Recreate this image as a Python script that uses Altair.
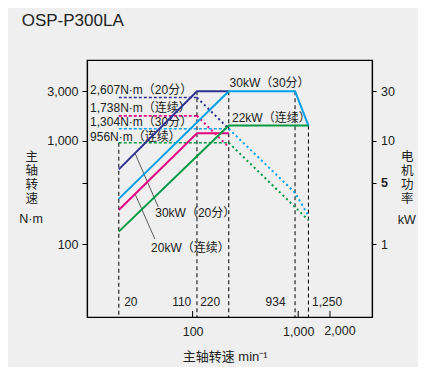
import altair as alt
import pandas as pd

FONT = "Liberation Sans, Arial, Noto Sans CJK SC, sans-serif"
TXT = "#222222"

series_names = ["30kW(20分)", "20kW(连续)", "30kW(30分)", "22kW(连续)"]
series_colors = ["#2e3192", "#e4007f", "#00a0e9", "#009944"]

# dashed verticals (speed min^-1) and their top levels (N·m scale)
vline_speed = [20, 110, 220, 934, 1250]
vline_top = [956, 3000, 3000, 3000, 1400]

# constant torque levels (dashed), N·m
ct_series = series_names
ct_from = [20, 20, 20, 20]
ct_to = [110, 110, 220, 220]
ct_torque = [2607, 1738, 1304, 956]

# torque in constant-power range (dotted), N·m
cp_series = ["30kW(20分)"] * 2 + ["20kW(连续)"] * 2 + ["30kW(30分)"] * 3 + ["22kW(连续)"] * 2
cp_speed = [110, 220, 110, 220, 220, 934, 1250, 220, 1250]
cp_torque = [2607, 1304, 1738, 869, 1304, 315, 190, 956, 172]

# power lines (solid), kW
pw_series = ["30kW(20分)"] * 3 + ["20kW(连续)"] * 3 + ["30kW(30分)"] * 4 + ["22kW(连续)"] * 3
pw_speed = [20, 110, 220, 20, 110, 220, 20, 220, 934, 1250, 20, 220, 1250]
pw_kw = [5.3, 30, 30, 2.15, 11.8, 11.8, 2.75, 30, 30, 14, 1.33, 14, 14]

# leader lines (speed, N·m)
ld_x = [28.6, 28.8]
ld_y = [750, 300]
ld_x2 = [47.3, 43.9]
ld_y2 = [230, 113]

# labels
lab_text = ["2,607N·m（20分）", "1,738N·m（连续）", "1,304N·m（30分）", "956N·m（连续）",
            "30kW（30分）", "22kW（连续）", "30kW（20分）", "20kW（连续）",
            "20", "220", "1,250"]
lab_x = [10.7, 10.7, 10.7, 10.7, 224, 236, 44.3, 40.4, 22.5, 118, 1352]
lab_y = [3097, 2056, 1500, 1084, 3597, 1652, 200, 92, 27.6, 27.6, 27.6]
rlab_text = ["110", "934"]
rlab_x = [97.2, 760]
rlab_y = [27.6, 27.6]

x_ticks = [100, 1000, 2000]

W, H = 285, 257

xs = alt.Scale(type="log", domain=[10, 5000])
ys = alt.Scale(type="log", domain=[20, 6000])
ks = alt.Scale(type="log", domain=[0.2, 60])
cs = alt.Scale(domain=series_names, range=series_colors)

xax = alt.Axis(values=x_ticks, labelExpr="datum.value == 2000 ? '' : format(datum.value, ',')",
               title=None, grid=False, ticks=False, tickSize=0,
               labelPadding=8, labelFontSize=12.5, labelColor=TXT, labelFont=FONT,
               domainColor="black", domainWidth=1.2, labelFlush=False)
yax = alt.Axis(values=[100, 395, 1000, 3000], labelExpr="datum.value == 395 ? '' : format(datum.value, ',')",
               title=None, grid=False, tickSize=5, tickColor="black", labelPadding=4,
               labelFontSize=12.5, labelColor=TXT, labelFont=FONT, domainColor="black", domainWidth=1.2)
kax = alt.Axis(orient="right", values=[1, 3.95, 10, 30],
               labelExpr="datum.value == 3.95 ? '5' : format(datum.value, ',')",
               labelFontWeight={"condition": {"test": "datum.value == 3.95", "value": "bold"}, "value": "normal"},
               title=None, grid=False, tickSize=4, tickColor="black", labelPadding=4.5,
               labelFontSize=12.5, labelColor=TXT, labelFont=FONT, domainColor="black", domainWidth=1.2)

X = lambda f="x": alt.X(f + ":Q", scale=xs, axis=xax)
Y = lambda f="y": alt.Y(f + ":Q", scale=ys, axis=yax)
C = alt.Color("s:N", scale=cs, legend=None)

vdf = pd.DataFrame({"x": vline_speed, "y": vline_top})
vr = alt.Chart(vdf).mark_rule(color="black", strokeDash=[4, 3], strokeWidth=1).encode(
    x=X(), y=Y(), y2=alt.value(H))

ctdf = pd.DataFrame({"s": ct_series, "x": ct_from, "x2": ct_to, "y": ct_torque})
ct = alt.Chart(ctdf).mark_rule(strokeDash=[3, 2], strokeWidth=1.6).encode(
    x=X(), x2="x2:Q", y=Y(), color=C)

cpdf = pd.DataFrame({"s": cp_series, "x": cp_speed, "y": cp_torque})
cp = alt.Chart(cpdf).mark_line(strokeDash=[2, 3], strokeWidth=2).encode(
    x=X(), y=Y(), color=C, detail="s:N")

lddf = pd.DataFrame({"x": ld_x, "y": ld_y, "x2": ld_x2, "y2": ld_y2})
ld = alt.Chart(lddf).mark_rule(color="#333333", strokeWidth=0.8).encode(
    x=X(), y=Y(), x2="x2:Q", y2="y2:Q")

ldf = pd.DataFrame({"t": lab_text, "x": lab_x, "y": lab_y})
lt = alt.Chart(ldf).mark_text(align="left", baseline="middle", fontSize=12, font=FONT, color=TXT).encode(
    x=X(), y=Y(), text="t:N")
rdf = pd.DataFrame({"t": rlab_text, "x": rlab_x, "y": rlab_y})
rt = alt.Chart(rdf).mark_text(align="right", baseline="middle", fontSize=12, font=FONT, color=TXT).encode(
    x=X(), y=Y(), text="t:N")

tkdf = pd.DataFrame({"x": x_ticks})
tk = alt.Chart(tkdf).mark_rule(color="black", strokeWidth=1).encode(
    x=X(), y=alt.value(H - 6), y2=alt.value(H))

# the 2,000 tick label sits a little right of its tick in the original
x2k = alt.Chart(pd.DataFrame({"x": [2000], "t": ["2,000"]})).mark_text(
    align="center", baseline="top", fontSize=12.5, font=FONT, color=TXT, dx=10, dy=8).encode(
    x=X(), y=alt.value(H), text="t:N")

def label(text, x, y, size=12.5, align="left", baseline="middle", weight="normal"):
    return alt.Chart(pd.DataFrame({"t": [text]})).mark_text(
        align=align, baseline=baseline, fontSize=size, font=FONT, color=TXT,
        lineBreak="\n", lineHeight=14, fontWeight=weight).encode(
        text="t:N", x=alt.value(x), y=alt.value(y))

title = label("OSP-P300LA", -65.3, -39, size=17)
lt1 = label("主\n轴\n转\n速", -55.3, 91, align="center", baseline="top")
lt2 = label("N·m", -56, 159.3, align="center")
rt1 = label("电\n机\n功\n率", 320.3, 90.7, align="center", baseline="top")
rt2 = label("kW", 319.7, 160, align="center")
bt1 = label("主轴转速 min⁻¹", 95.7, 297.3, size=13)

A = alt.layer(vr, ct, cp, ld, lt, rt, tk, x2k, title, lt1, lt2, rt1, rt2, bt1)

pwdf = pd.DataFrame({"s": pw_series, "x": pw_speed, "y": pw_kw})
B = alt.Chart(pwdf).mark_line(strokeWidth=2).encode(
    x=X(), y=alt.Y("y:Q", scale=ks, axis=kax), color=C, detail="s:N")

chart = alt.layer(A, B).resolve_scale(y="independent").properties(
    width=W, height=H, autosize=alt.AutoSizeParams(type="none"),
    padding={"left": 79, "top": 52, "right": 46, "bottom": 50},
).configure(background="#eeefee").configure_view(stroke="black", strokeWidth=1.2)

chart.save("out.html", embed_options={"renderer": "svg", "actions": False})
